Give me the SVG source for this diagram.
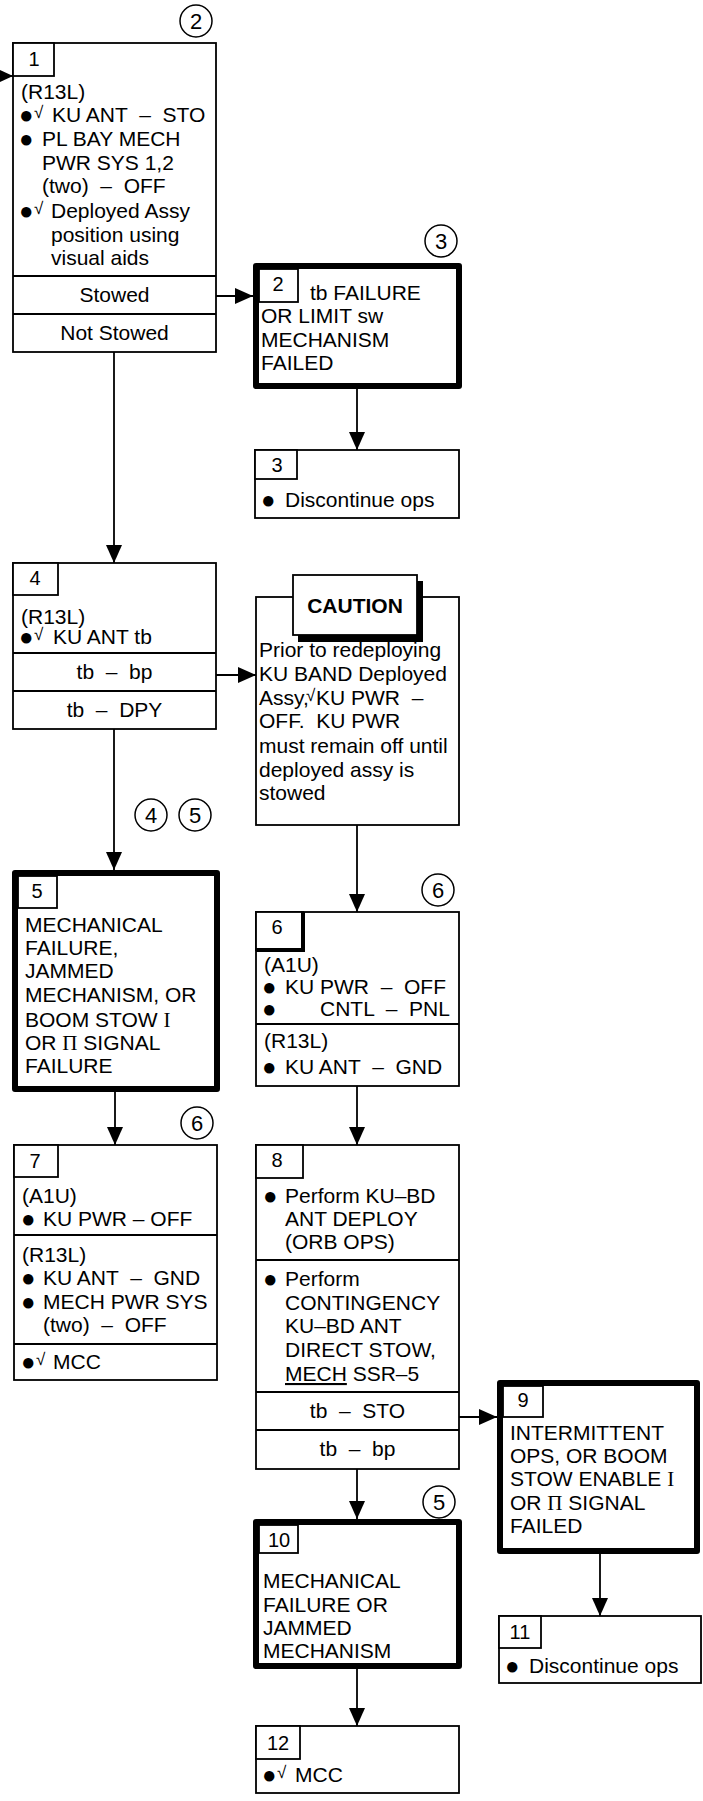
<svg xmlns="http://www.w3.org/2000/svg" width="703" height="1801" viewBox="0 0 703 1801">
<defs>
<style>
.t{font-family:"Liberation Sans",Arial,sans-serif;font-size:21px;fill:#000;white-space:pre}
.m{text-anchor:middle}
.n{font-size:20px}
.cn{font-size:22px}
.cap{font-weight:bold;font-size:21px}
.bul{font-size:24px}
.chk{font-size:17px}
.sf{font-family:"Liberation Serif","Times New Roman",serif}
.bx{fill:#fff;stroke:#000;stroke-width:1.8}
.thk{fill:#fff;stroke:#000;stroke-width:6;stroke-linejoin:round}
.ln{fill:none;stroke:#000;stroke-width:1.8}
.cir{fill:#fff;stroke:#000;stroke-width:1.5}
</style>
<marker id="ah" markerUnits="userSpaceOnUse" markerWidth="18" markerHeight="16" refX="18" refY="8" orient="auto"><path d="M0,0 L18,8 L0,16 Z" fill="#000"/></marker>
<marker id="ahs" markerUnits="userSpaceOnUse" markerWidth="13" markerHeight="12" refX="13" refY="6" orient="auto"><path d="M0,0 L13,6 L0,12 Z" fill="#000"/></marker>
</defs>
<rect width="703" height="1801" fill="#fff"/>

<g id="connectors">
<line class="ln" x1="-5" y1="76" x2="13" y2="76" marker-end="url(#ahs)"/>
<line class="ln" x1="216" y1="296" x2="253" y2="296" marker-end="url(#ah)"/>
<line class="ln" x1="357" y1="389" x2="357" y2="450" marker-end="url(#ah)"/>
<line class="ln" x1="114" y1="352" x2="114" y2="563" marker-end="url(#ah)"/>
<line class="ln" x1="216" y1="675" x2="256" y2="675" marker-end="url(#ah)"/>
<line class="ln" x1="114" y1="729" x2="114" y2="870" marker-end="url(#ah)"/>
<line class="ln" x1="357" y1="825" x2="357" y2="912" marker-end="url(#ah)"/>
<line class="ln" x1="115" y1="1092" x2="115" y2="1145" marker-end="url(#ah)"/>
<line class="ln" x1="357" y1="1086" x2="357" y2="1145" marker-end="url(#ah)"/>
<line class="ln" x1="459" y1="1417" x2="497" y2="1417" marker-end="url(#ah)"/>
<line class="ln" x1="357" y1="1469" x2="357" y2="1519" marker-end="url(#ah)"/>
<line class="ln" x1="600" y1="1554" x2="600" y2="1616" marker-end="url(#ah)"/>
<line class="ln" x1="357" y1="1669" x2="357" y2="1726" marker-end="url(#ah)"/>
</g>

<g id="refs">
<circle class="cir" cx="196" cy="21" r="16"/><text class="t m cn" x="196" y="29">2</text>
<circle class="cir" cx="441" cy="241" r="16"/><text class="t m cn" x="441" y="249">3</text>
<circle class="cir" cx="151" cy="815" r="16"/><text class="t m cn" x="151" y="823">4</text>
<circle class="cir" cx="195" cy="815" r="16"/><text class="t m cn" x="195" y="823">5</text>
<circle class="cir" cx="438" cy="890" r="16"/><text class="t m cn" x="438" y="898">6</text>
<circle class="cir" cx="197" cy="1123" r="16"/><text class="t m cn" x="197" y="1131">6</text>
<circle class="cir" cx="439" cy="1502" r="16"/><text class="t m cn" x="439" y="1510">5</text>
</g>

<g id="node1">
<rect class="bx" x="13" y="43" width="203" height="309"/>
<rect class="bx" x="13" y="43" width="41" height="33"/>
<line class="ln" x1="13" y1="276" x2="216" y2="276"/>
<line class="ln" x1="13" y1="314" x2="216" y2="314"/>
<text class="t m n" x="34" y="66">1</text>
<text class="t" x="21" y="99">(R13L)</text>
<text class="t" x="19" y="122"><tspan class="bul" dy="1">●</tspan><tspan class="chk" x="34" dy="-5">√</tspan><tspan x="52" dy="4">KU ANT  –  STO</tspan></text>
<text class="t" x="19" y="146"><tspan class="bul" dy="1">●</tspan><tspan x="42" dy="-1">PL BAY MECH</tspan></text>
<text class="t" x="42" y="170">PWR SYS 1,2</text>
<text class="t" x="42" y="193">(two)  –  OFF</text>
<text class="t" x="19" y="218"><tspan class="bul" dy="1">●</tspan><tspan class="chk" x="34" dy="-5">√</tspan><tspan x="51" dy="4">Deployed Assy</tspan></text>
<text class="t" x="51" y="242">position using</text>
<text class="t" x="51" y="265">visual aids</text>
<text class="t m" x="114.5" y="302">Stowed</text>
<text class="t m" x="114.5" y="340">Not Stowed</text>
</g>

<g id="node2">
<rect class="thk" x="256" y="266" width="203" height="120"/>
<rect class="bx" x="259" y="269" width="39" height="33"/>
<text class="t m n" x="278" y="291">2</text>
<text class="t" x="310" y="300">tb FAILURE</text>
<text class="t" x="261" y="323">OR LIMIT sw</text>
<text class="t" x="261" y="347">MECHANISM</text>
<text class="t" x="261" y="370">FAILED</text>
</g>

<g id="node3">
<rect class="bx" x="255" y="450" width="204" height="68"/>
<rect class="bx" x="255" y="450" width="42" height="29"/>
<text class="t m n" x="277" y="472">3</text>
<text class="t" x="261" y="507"><tspan class="bul" dy="1">●</tspan><tspan x="285" dy="-1">Discontinue ops</tspan></text>
</g>

<g id="node4">
<rect class="bx" x="13" y="563" width="203" height="166"/>
<rect class="bx" x="13" y="563" width="45" height="32"/>
<line class="ln" x1="13" y1="653" x2="216" y2="653"/>
<line class="ln" x1="13" y1="691" x2="216" y2="691"/>
<text class="t m n" x="35" y="585">4</text>
<text class="t" x="21" y="624">(R13L)</text>
<text class="t" x="19" y="644"><tspan class="bul" dy="1">●</tspan><tspan class="chk" x="34" dy="-5">√</tspan><tspan x="53" dy="4">KU ANT tb</tspan></text>
<text class="t m" x="114.5" y="679">tb  –  bp</text>
<text class="t m" x="114.5" y="717">tb  –  DPY</text>
</g>

<g id="caution">
<rect class="bx" x="256" y="597" width="203" height="228"/>
<rect x="298" y="581" width="125" height="61" fill="#000"/>
<rect class="bx" x="293" y="575" width="124" height="60"/>
<text class="t m cap" x="355" y="613">CAUTION</text>
<text class="t" x="259" y="657">Prior to redeploying</text>
<text class="t" x="259" y="681">KU BAND Deployed</text>
<text class="t" x="259" y="705">Assy,<tspan class="chk" x="306" dy="-4">√</tspan><tspan x="316" dy="4">KU PWR  –</tspan></text>
<text class="t" x="259" y="728">OFF.  KU PWR</text>
<text class="t" x="259" y="753">must remain off until</text>
<text class="t" x="259" y="777">deployed assy is</text>
<text class="t" x="259" y="800">stowed</text>
</g>

<g id="node5">
<rect class="thk" x="15" y="873" width="202" height="216"/>
<rect class="bx" x="18" y="876" width="39" height="32"/>
<text class="t m n" x="37" y="898">5</text>
<text class="t" x="25" y="932">MECHANICAL</text>
<text class="t" x="25" y="955">FAILURE,</text>
<text class="t" x="25" y="978">JAMMED</text>
<text class="t" x="25" y="1002">MECHANISM, OR</text>
<text class="t" x="25" y="1027">BOOM STOW <tspan class="sf">I</tspan></text>
<text class="t" x="25" y="1050">OR <tspan class="sf">Π</tspan> SIGNAL</text>
<text class="t" x="25" y="1073">FAILURE</text>
</g>

<g id="node6">
<rect class="bx" x="256" y="912" width="203" height="174"/>
<rect class="bx" x="256" y="912" width="47" height="38"/>
<polyline points="303,912 303,950 256,950" fill="none" stroke="#000" stroke-width="4"/>
<line class="ln" x1="256" y1="1024" x2="459" y2="1024"/>
<text class="t m n" x="277" y="934">6</text>
<text class="t" x="264" y="972">(A1U)</text>
<text class="t" x="262" y="994"><tspan class="bul" dy="1">●</tspan><tspan x="285" dy="-1">KU PWR  –  OFF</tspan></text>
<text class="t" x="262" y="1016"><tspan class="bul" dy="1">●</tspan><tspan x="320" dy="-1">CNTL  –  PNL</tspan></text>
<text class="t" x="264" y="1048">(R13L)</text>
<text class="t" x="262" y="1074"><tspan class="bul" dy="1">●</tspan><tspan x="285" dy="-1">KU ANT  –  GND</tspan></text>
</g>

<g id="node7">
<rect class="bx" x="14" y="1145" width="203" height="235"/>
<rect class="bx" x="14" y="1145" width="44" height="32"/>
<line class="ln" x1="14" y1="1235" x2="217" y2="1235"/>
<line class="ln" x1="14" y1="1344" x2="217" y2="1344"/>
<text class="t m n" x="35" y="1168">7</text>
<text class="t" x="22" y="1203">(A1U)</text>
<text class="t" x="21" y="1226"><tspan class="bul" dy="1">●</tspan><tspan x="43" dy="-1">KU PWR – OFF</tspan></text>
<text class="t" x="22" y="1262">(R13L)</text>
<text class="t" x="21" y="1285"><tspan class="bul" dy="1">●</tspan><tspan x="43" dy="-1">KU ANT  –  GND</tspan></text>
<text class="t" x="21" y="1309"><tspan class="bul" dy="1">●</tspan><tspan x="43" dy="-1">MECH PWR SYS</tspan></text>
<text class="t" x="43" y="1332">(two)  –  OFF</text>
<text class="t" x="21" y="1369"><tspan class="bul" dy="1">●</tspan><tspan class="chk" x="36" dy="-5">√</tspan><tspan x="53" dy="4">MCC</tspan></text>
</g>

<g id="node8">
<rect class="bx" x="256" y="1145" width="203" height="324"/>
<rect class="bx" x="256" y="1145" width="47" height="33"/>
<line class="ln" x1="256" y1="1260" x2="459" y2="1260"/>
<line class="ln" x1="256" y1="1392" x2="459" y2="1392"/>
<line class="ln" x1="256" y1="1430" x2="459" y2="1430"/>
<text class="t m n" x="277" y="1167">8</text>
<text class="t" x="263" y="1203"><tspan class="bul" dy="1">●</tspan><tspan x="285" dy="-1">Perform KU–BD</tspan></text>
<text class="t" x="285" y="1226">ANT DEPLOY</text>
<text class="t" x="285" y="1249">(ORB OPS)</text>
<text class="t" x="263" y="1286"><tspan class="bul" dy="1">●</tspan><tspan x="285" dy="-1">Perform</tspan></text>
<text class="t" x="285" y="1310">CONTINGENCY</text>
<text class="t" x="285" y="1333">KU–BD ANT</text>
<text class="t" x="285" y="1357">DIRECT STOW,</text>
<text class="t" x="285" y="1381"><tspan text-decoration="underline">MECH</tspan> SSR–5</text>
<text class="t m" x="357.5" y="1418">tb  –  STO</text>
<text class="t m" x="357.5" y="1456">tb  –  bp</text>
</g>

<g id="node9">
<rect class="thk" x="500" y="1383" width="197" height="168"/>
<rect class="bx" x="503" y="1386" width="40" height="31"/>
<text class="t m n" x="523" y="1407">9</text>
<text class="t" x="510" y="1440">INTERMITTENT</text>
<text class="t" x="510" y="1463">OPS, OR BOOM</text>
<text class="t" x="510" y="1486">STOW ENABLE <tspan class="sf">I</tspan></text>
<text class="t" x="510" y="1510">OR <tspan class="sf">Π</tspan> SIGNAL</text>
<text class="t" x="510" y="1533">FAILED</text>
</g>

<g id="node10">
<rect class="thk" x="256" y="1522" width="203" height="144"/>
<rect class="bx" x="259" y="1525" width="39" height="28"/>
<text class="t m n" x="279" y="1547">10</text>
<text class="t" x="263" y="1588">MECHANICAL</text>
<text class="t" x="263" y="1612">FAILURE OR</text>
<text class="t" x="263" y="1635">JAMMED</text>
<text class="t" x="263" y="1658">MECHANISM</text>
</g>

<g id="node11">
<rect class="bx" x="499" y="1616" width="202" height="67"/>
<rect class="bx" x="499" y="1616" width="42" height="32"/>
<text class="t m n" x="520" y="1639">11</text>
<text class="t" x="505" y="1673"><tspan class="bul" dy="1">●</tspan><tspan x="529" dy="-1">Discontinue ops</tspan></text>
</g>

<g id="node12">
<rect class="bx" x="256" y="1726" width="203" height="67"/>
<rect class="bx" x="256" y="1726" width="44" height="33"/>
<text class="t m n" x="278" y="1750">12</text>
<text class="t" x="262" y="1782"><tspan class="bul" dy="1">●</tspan><tspan class="chk" x="277" dy="-5">√</tspan><tspan x="295" dy="4">MCC</tspan></text>
</g>
</svg>
